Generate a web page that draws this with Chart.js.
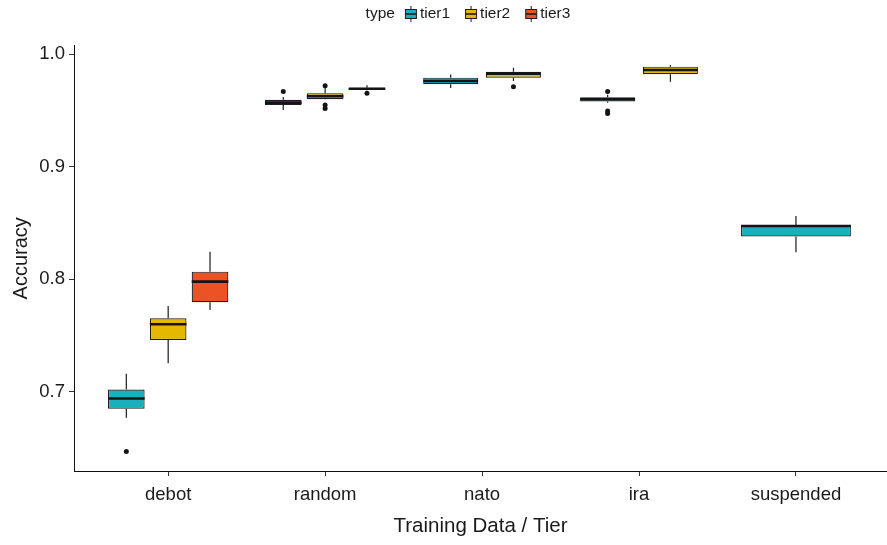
<!DOCTYPE html>
<html>
<head>
<meta charset="utf-8">
<script src="https://cdn.jsdelivr.net/npm/chart.js@4/dist/chart.umd.min.js"></script>
<style>
  html, body { margin: 0; padding: 0; background: #ffffff; }
  #wrap { width: 887px; height: 545px; position: relative; }
</style>
</head>
<body>
<div id="wrap"><canvas id="chart"></canvas></div>
<script>
// Training data sets along the x axis and the tiers that are dodged inside each
const categories = ['debot', 'random', 'nato', 'ira', 'suspended'];
const tierNames = ['tier1', 'tier2', 'tier3'];
const yTicks = [0.7, 0.8, 0.9, 1.0];

// Five-number summaries per tier (null where a tier was not evaluated)
const tier1Low    = [0.677, 0.9505, 0.970, 0.957, 0.824];
const tier1Q1     = [0.685, 0.955, 0.9733, 0.958, 0.838];
const tier1Median = [0.694, 0.957, 0.9763, 0.960, 0.8474];
const tier1Q3     = [0.702, 0.9596, 0.9792, 0.9618, 0.8483];
const tier1High   = [0.716, 0.962, 0.982, 0.964, 0.8563];
const tier1Outliers = [[0.647], [0.967], [], [0.967, 0.9496, 0.9474], []];

const tier2Low    = [0.7253, 0.9598, 0.9763, 0.9756, null];
const tier2Q1     = [0.746, 0.960, 0.9792, 0.9822, null];
const tier2Median = [0.760, 0.9627, 0.9828, 0.986, null];
const tier2Q3     = [0.7653, 0.9653, 0.9845, 0.989, null];
const tier2High   = [0.7763, 0.970, 0.9881, 0.9905, null];
const tier2Outliers = [[], [0.9721, 0.9549, 0.9518], [0.9712], [], []];

const tier3Low    = [0.7727, 0.968, null, null, null];
const tier3Q1     = [0.7796, 0.9683, null, null, null];
const tier3Median = [0.7979, 0.9694, null, null, null];
const tier3Q3     = [0.8068, 0.9703, null, null, null];
const tier3High   = [0.8245, 0.9724, null, null, null];
const tier3Outliers = [[], [0.9653], [], [], []];

const tierStats = [
  { low: tier1Low, q1: tier1Q1, median: tier1Median, q3: tier1Q3, high: tier1High, outliers: tier1Outliers },
  { low: tier2Low, q1: tier2Q1, median: tier2Median, q3: tier2Q3, high: tier2High, outliers: tier2Outliers },
  { low: tier3Low, q1: tier3Q1, median: tier3Median, q3: tier3Q3, high: tier3High, outliers: tier3Outliers }
];

// Styling
const tierColors = ['#16B0BF', '#E5B800', '#EB5226'];
const lineColor = '#1c1c1c';
const FONT = '"Liberation Sans", Arial, Helvetica, sans-serif';
Chart.defaults.font.family = FONT;
Chart.defaults.color = '#1a1a1a';

// Boxes are floating bars spanning Q1..Q3
const datasets = tierStats.map((s, d) => ({
  label: tierNames[d],
  data: categories.map((c, i) => ({ x: i, y: s.q1[i] == null ? null : [s.q1[i], s.q3[i]] })),
  backgroundColor: tierColors[d],
  borderColor: '#1e1e1e',
  borderWidth: 1.2,
  borderSkipped: false,
  skipNull: true,
  categoryPercentage: 0.8,
  barPercentage: 0.875
}));

// Whiskers, medians and outlier points, placed on each box element
const boxExtras = {
  id: 'boxExtras',
  afterDatasetsDraw(chart) {
    const ctx = chart.ctx;
    const ys = chart.scales.y;
    ctx.save();
    tierStats.forEach((s, d) => {
      const meta = chart.getDatasetMeta(d);
      meta.data.forEach((el, i) => {
        if (s.median[i] == null) return;
        const { x, width } = el.getProps(['x', 'width'], true);
        const yLow = ys.getPixelForValue(s.low[i]);
        const yQ1 = ys.getPixelForValue(s.q1[i]);
        const yQ3 = ys.getPixelForValue(s.q3[i]);
        const yHigh = ys.getPixelForValue(s.high[i]);
        const yMed = ys.getPixelForValue(s.median[i]);
        ctx.strokeStyle = lineColor;
        ctx.lineWidth = 1.2;
        ctx.beginPath();
        ctx.moveTo(x, yQ3); ctx.lineTo(x, yHigh);
        ctx.moveTo(x, yQ1); ctx.lineTo(x, yLow);
        ctx.stroke();
        ctx.strokeStyle = '#141414';
        ctx.lineWidth = 2.6;
        ctx.beginPath();
        ctx.moveTo(x - width / 2, yMed); ctx.lineTo(x + width / 2, yMed);
        ctx.stroke();
        ctx.fillStyle = '#141414';
        s.outliers[i].forEach(v => {
          ctx.beginPath();
          ctx.arc(x, ys.getPixelForValue(v), 2.5, 0, Math.PI * 2);
          ctx.fill();
        });
      });
    });
    ctx.restore();
  }
};

// Legend row: "type" followed by a small boxplot key for every tier
const typeLegend = {
  id: 'typeLegend',
  afterDraw(chart) {
    const ctx = chart.ctx;
    ctx.save();
    ctx.font = '15.5px ' + FONT;
    ctx.textBaseline = 'middle';
    ctx.fillStyle = '#1a1a1a';
    const keyW = 12, keyGap = 3, itemGap = 15, titleGap = 10;
    const title = 'type';
    let total = ctx.measureText(title).width + titleGap;
    tierNames.forEach((n, k) => {
      total += keyW + keyGap + ctx.measureText(n).width + (k < tierNames.length - 1 ? itemGap : 0);
    });
    const cy = 14;
    let x = 468 - total / 2;
    ctx.fillText(title, x, cy);
    x += ctx.measureText(title).width + titleGap;
    tierNames.forEach((n, k) => {
      ctx.strokeStyle = lineColor;
      ctx.lineWidth = 1;
      ctx.beginPath();
      ctx.moveTo(x + keyW / 2, cy - 8); ctx.lineTo(x + keyW / 2, cy + 8);
      ctx.stroke();
      ctx.fillStyle = tierColors[k];
      ctx.fillRect(x + 0.5, cy - 4.5, keyW - 1, 9);
      ctx.strokeStyle = '#1e1e1e';
      ctx.strokeRect(x + 0.5, cy - 4.5, keyW - 1, 9);
      ctx.lineWidth = 1.6;
      ctx.beginPath();
      ctx.moveTo(x + 0.5, cy); ctx.lineTo(x + keyW - 0.5, cy);
      ctx.stroke();
      x += keyW + keyGap;
      ctx.fillStyle = '#1a1a1a';
      ctx.fillText(n, x, cy);
      x += ctx.measureText(n).width + itemGap;
    });
    ctx.restore();
  }
};

new Chart(document.getElementById('chart'), {
  type: 'bar',
  data: { datasets },
  plugins: [boxExtras, typeLegend],
  options: {
    responsive: true,
    maintainAspectRatio: false,
    animation: false,
    layout: { padding: { top: 45.6, right: 0, left: 0, bottom: 0 } },
    plugins: {
      legend: { display: false },
      tooltip: { enabled: false }
    },
    scales: {
      x: {
        type: 'linear',
        offset: false,
        min: -0.6,
        max: 4.58,
        afterBuildTicks(scale) { scale.ticks = categories.map((c, i) => ({ value: i })); },
        afterFit(scale) { scale.height = 74; },
        grid: { offset: false, drawOnChartArea: false, drawTicks: true, tickLength: 5, tickColor: '#333333' },
        border: { display: true, color: '#111111', width: 1 },
        ticks: {
          autoSkip: false,
          maxRotation: 0,
          padding: 8,
          font: { size: 18.5 },
          color: '#1a1a1a',
          callback: (v) => categories[v]
        },
        title: {
          display: true,
          text: 'Training Data / Tier',
          font: { size: 20.5 },
          color: '#1a1a1a',
          padding: { top: 0, bottom: 6 }
        }
      },
      y: {
        min: 0.6296,
        max: 1.0077,
        afterBuildTicks(scale) { scale.ticks = yTicks.map(v => ({ value: v })); },
        afterFit(scale) { scale.width = 74; },
        grid: { drawOnChartArea: false, drawTicks: true, tickLength: 5, tickColor: '#333333' },
        border: { display: true, color: '#111111', width: 1 },
        ticks: {
          padding: 4,
          font: { size: 18.5 },
          color: '#1a1a1a',
          callback: (v) => Number(v).toFixed(1)
        },
        title: {
          display: true,
          text: 'Accuracy',
          font: { size: 20 },
          color: '#1a1a1a',
          padding: { top: 9, bottom: 0 }
        }
      }
    }
  }
});
</script>
</body>
</html>
